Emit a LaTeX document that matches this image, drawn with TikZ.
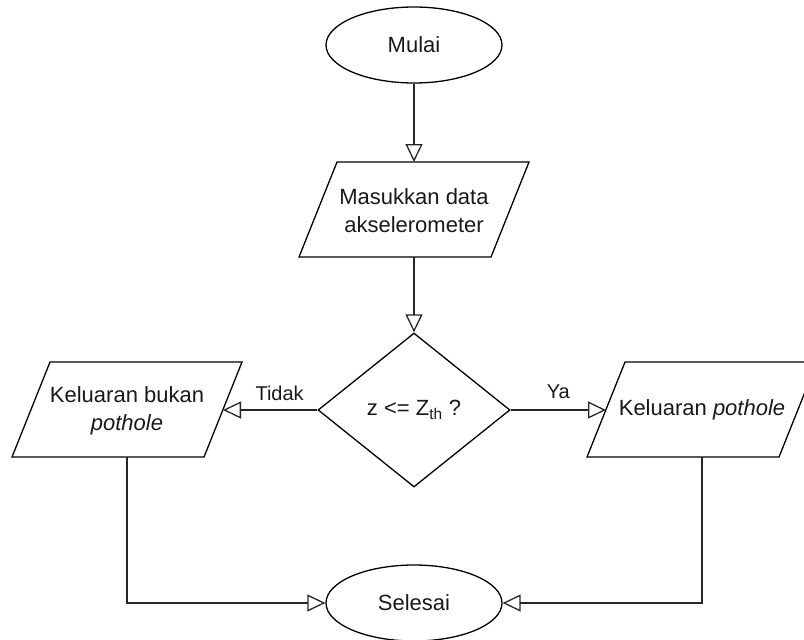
\documentclass[tikz,border=0pt]{standalone}
\usepackage{fontspec}
\setmainfont{Liberation Sans}
\usetikzlibrary{shapes.geometric,arrows.meta}
\begin{document}
\begin{tikzpicture}[x=1pt,y=-1pt,
  every node/.style={font=\fontsize{22}{28}\selectfont, text=black!90},
  shapebox/.style={draw=black, line width=1.3pt},
  conn/.style={draw=black!85, line width=1.5pt, -{Triangle[open, length=18pt, width=17pt, line width=1.3pt]}},
  lbl/.style={font=\fontsize{20}{24}\selectfont}]
\useasboundingbox (0,0) rectangle (804,640);
% start
\node[shapebox, ellipse, minimum width=176pt, minimum height=76pt, inner sep=0pt] (mulai) at (414,45) {Mulai};
% input
\draw[shapebox] (299,257) -- (491,257) -- (529,162) -- (337,162) -- cycle;
\node[align=center] (input) at (414,211) {Masukkan data\\akselerometer};
\coordinate (inputtop) at (414,162);
\coordinate (inputbot) at (414,257);
% decision
\node[shapebox, diamond, minimum width=192pt, minimum height=154pt, inner sep=0pt] (dec) at (414,410) {z <= Z\textsubscript{th} ?};
% no branch
\draw[shapebox] (12,457) -- (204,457) -- (242,362) -- (50,362) -- cycle;
\node[align=center] (no) at (127,411) {Keluaran bukan\\\textit{pothole}};
\coordinate (noin) at (223,410);
\coordinate (noout) at (127,457);
% yes branch
\draw[shapebox] (587,457) -- (779,457) -- (817,362) -- (625,362) -- cycle;
\node (yes) at (702,410) {Keluaran \textit{pothole}};
\coordinate (yesin) at (606,410);
\coordinate (yesout) at (702,457);
% end
\node[shapebox, ellipse, minimum width=176pt, minimum height=76pt, inner sep=0pt] (selesai) at (414,603) {Selesai};
% connectors
\draw[conn] (mulai.south) -- (inputtop);
\draw[conn] (inputbot) -- (dec.north);
\draw[conn] (dec.west) -- node[lbl, pos=0.4, yshift=17pt] (tidak) {Tidak} (noin);
\draw[conn] (dec.east) -- node[lbl, pos=0.5, yshift=18pt] (ya) {Ya} (yesin);
\draw[conn] (noout) |- (selesai.west);
\draw[conn] (yesout) |- (selesai.east);
\end{tikzpicture}
\end{document}
